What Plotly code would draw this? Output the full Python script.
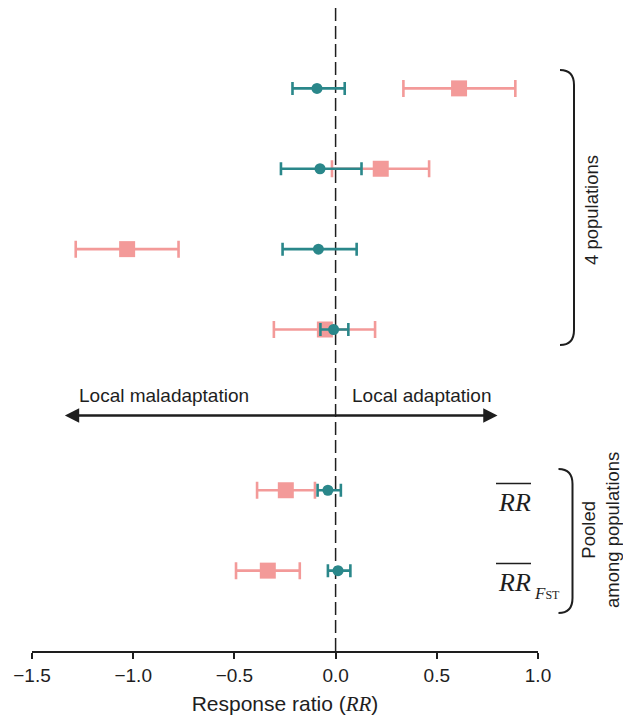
import plotly.graph_objects as go

# ---- data ----
row_names = ["Population 1", "Population 2", "Population 3", "Population 4", "RR", "RR_FST"]
row_pos = [0, 1, 2, 3, 5, 6]

pink_val = [0.610, 0.223, -1.030, -0.053, -0.246, -0.335]
pink_lo = [0.335, -0.018, -1.284, -0.305, -0.388, -0.492]
pink_hi = [0.888, 0.462, -0.776, 0.195, -0.102, -0.177]

teal_val = [-0.092, -0.077, -0.085, -0.010, -0.038, 0.012]
teal_lo = [-0.213, -0.270, -0.262, -0.075, -0.089, -0.038]
teal_hi = [0.045, 0.128, 0.104, 0.063, 0.026, 0.073]

x_ticks = [-1.5, -1.0, -0.5, 0.0, 0.5, 1.0]
x_tick_labels = ["\u22121.5", "\u22121.0", "\u22120.5", "0.0", "0.5", "1.0"]

arrow_left, arrow_right, arrow_y = -1.345, 0.80, 4.07

PINK = "#F39A99"
TEAL = "#2A878A"
INK = "#1e1e1e"
SANS = "Liberation Sans, Arial, sans-serif"
SERIF = "Liberation Serif, Times New Roman, serif"

# plot area in pixels: x 32..538, y 8..651
L, R, T, B = 32, 85, 8, 68
W, H = 623, 719
PW, PH = W - L - R, H - T - B


def px(X):
    return (X - L) / PW


def py(Y):
    return (H - B - Y) / PH


fig = go.Figure()

fig.add_trace(go.Scatter(
    x=pink_val, y=row_pos, mode="markers",
    marker=dict(symbol="square", size=16, color=PINK),
    error_x=dict(type="data", symmetric=False,
                 array=[h - v for h, v in zip(pink_hi, pink_val)],
                 arrayminus=[v - l for l, v in zip(pink_lo, pink_val)],
                 color=PINK, thickness=2.6, width=8.5),
    name="pink", showlegend=False, hoverinfo="skip"))

fig.add_trace(go.Scatter(
    x=teal_val, y=row_pos, mode="markers",
    marker=dict(symbol="circle", size=11, color=TEAL),
    error_x=dict(type="data", symmetric=False,
                 array=[h - v for h, v in zip(teal_hi, teal_val)],
                 arrayminus=[v - l for l, v in zip(teal_lo, teal_val)],
                 color=TEAL, thickness=2.6, width=6.5),
    name="teal", showlegend=False, hoverinfo="skip"))

shapes = []
# vertical dashed zero line
shapes.append(dict(type="line", xref="x", yref="paper", x0=0, x1=0, y0=0, y1=1,
                   line=dict(color=INK, width=1.5, dash="13px,5px"), layer="below"))


def bracket(x0, x1, y0, y1, r=15):
    return dict(type="path", xref="paper", yref="paper",
                path=(f"M {px(x0)},{py(y0)} Q {px(x1)},{py(y0)} {px(x1)},{py(y0 + r)} "
                      f"L {px(x1)},{py(y1 - r)} Q {px(x1)},{py(y1)} {px(x0)},{py(y1)}"),
                line=dict(color=INK, width=2))


shapes.append(bracket(560, 574, 70, 345))
shapes.append(bracket(558.5, 572.5, 469, 613))
# overbars
shapes.append(dict(type="line", xref="paper", yref="paper", x0=px(496), x1=px(531),
                   y0=py(483.5), y1=py(483.5), line=dict(color=INK, width=1.5)))
shapes.append(dict(type="line", xref="paper", yref="paper", x0=px(496), x1=px(531),
                   y0=py(563.5), y1=py(563.5), line=dict(color=INK, width=1.5)))

annotations = []
# double arrow
annotations.append(dict(x=arrow_right, y=arrow_y, ax=arrow_left, ay=arrow_y,
                        xref="x", yref="y", axref="x", ayref="y", text="",
                        showarrow=True, arrowhead=2, arrowside="end+start",
                        arrowsize=1.1, arrowwidth=2.6, arrowcolor=INK))


def label(text, X, Y, size, family=SANS, angle=0, xanchor="center"):
    return dict(x=px(X), y=py(Y), xref="paper", yref="paper", text=text,
                xanchor=xanchor, yanchor="middle", textangle=angle, showarrow=False,
                font=dict(family=family, size=size, color=INK))


annotations.append(label("Local maladaptation", 164, 395, 19))
annotations.append(label("Local adaptation", 421, 395, 19))
annotations.append(label("4 populations", 592, 210, 18.5, angle=-90))
annotations.append(label("Pooled<br>among populations", 600, 530, 18.5, angle=-90))
annotations.append(label("<i>RR</i>", 514, 502, 26, family=SERIF))
annotations.append(label("<i>RR</i>", 514, 582, 26, family=SERIF))
annotations.append(label("<i>F</i><span style='font-size:12px'>ST</span>", 532, 593, 17,
                         family=SERIF, xanchor="left"))

fig.update_layout(
    width=W, height=H,
    margin=dict(l=L, r=R, t=T, b=B, pad=0),
    paper_bgcolor="white", plot_bgcolor="white",
    shapes=shapes, annotations=annotations,
    xaxis=dict(range=[-1.5, 1.0], tickvals=x_ticks, ticktext=x_tick_labels,
               showgrid=False, zeroline=False, showline=True, linecolor=INK, linewidth=1.5,
               ticks="outside", ticklen=6, tickwidth=1.5, tickcolor=INK,
               tickfont=dict(family=SANS, size=19, color=INK),
               title=dict(text="Response ratio (<span style=\"font-family:'Liberation Serif'\"><i>RR</i></span>)",
                          font=dict(family=SANS, size=21, color=INK), standoff=12)),
    yaxis=dict(range=[7.0, -1.0], visible=False, showgrid=False, zeroline=False),
)

fig.write_html("out.html", config={"displayModeBar": False},
               post_script="document.body.style.margin='0';")
